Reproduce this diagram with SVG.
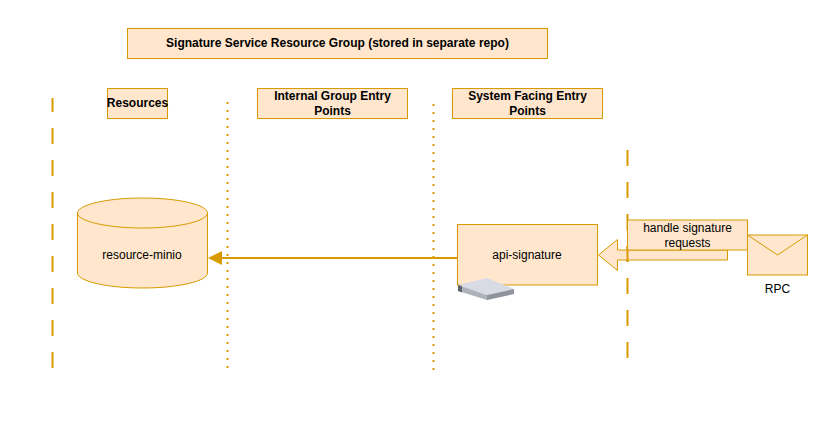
<svg xmlns="http://www.w3.org/2000/svg" width="817" height="444" viewBox="0 0 817 444">
<style>
.b{fill:#ffe6cc;stroke:#d79b00;stroke-width:1}
.t{font-family:"Liberation Sans",Arial,sans-serif;font-size:12px;fill:#000;text-anchor:middle}
.h{font-weight:bold}
.dash{fill:none;stroke:#d79b00;stroke-width:2;stroke-dasharray:16 16}
.dot{fill:none;stroke:#d79b00;stroke-width:2;stroke-dasharray:2 6}
</style>
<defs>
<marker id="ah" markerUnits="userSpaceOnUse" markerWidth="16" markerHeight="16" refX="1" refY="8" orient="auto" viewBox="0 0 16 16"><path d="M1 1L15 8L1 15Z" fill="#d79b00"/></marker>
</defs>
<rect width="817" height="444" fill="#fff"/>
<g id="lanes">
<path class="dash" d="M52.5 98V368" stroke-dashoffset="2"/>
<path class="dot" d="M227.5 102V368"/>
<path class="dot" d="M433.5 104V370"/>
<path class="dash" d="M627.5 150V358"/>
</g>
<g id="title"><rect class="b" x="127.5" y="28.5" width="420" height="30"/><text class="t h" x="337.5" y="47">Signature Service Resource Group (stored in separate repo)</text></g>
<g id="resources"><rect class="b" x="107.5" y="88.5" width="60" height="30"/><text class="t h" x="137.5" y="107">Resources</text></g>
<g id="internal"><rect class="b" x="257.5" y="88.5" width="150" height="30"/><text class="t h" x="332.5" y="100">Internal Group Entry</text><text class="t h" x="332.5" y="115">Points</text></g>
<g id="system"><rect class="b" x="452.5" y="88.5" width="150" height="30"/><text class="t h" x="527.5" y="100">System Facing Entry</text><text class="t h" x="527.5" y="115">Points</text></g>
<g id="resource-minio">
<path class="b" d="M77.5 213C77.5 205 106 198 142.500 198S207.500 205 207.500 213V273C207.500 281 179 288 142.500 288S77.500 281 77.500 273Z"/>
<path class="b" style="fill:none" d="M77.5 213C77.5 221 106 228 142.500 228S207.500 221 207.500 213"/>
<text class="t" x="142" y="259">resource-minio</text>
</g>
<g id="api-signature">
<rect class="b" x="457.500" y="224.500" width="140" height="60.500"/>
<text class="t" x="527" y="259">api-signature</text>
<path d="M458 285L487 278L514 289L487 295Z" fill="#d8dbe3"/>
<path d="M458 285V291L487 300V295Z" fill="#aeb2bb"/>
<path d="M458 285V291L462 292.200V286.300Z" fill="#5f636c"/>
<path d="M487 295V300L514 294V289Z" fill="#8f939c"/>
</g>
<g id="connectors">
<path d="M457.500 258H222" fill="none" stroke="#d79b00" stroke-width="2" marker-end="url(#ah)"/>
<path d="M727.500 250V260H617.500V270.500L598.500 255L617.500 239.500V250Z" fill="#ffe6cc" stroke="#d79b00" stroke-width="1"/>
<path d="M627.500 246V262" class="dash" stroke-dasharray="none"/>
</g>
<g id="handle"><rect class="b" x="627.500" y="220" width="120" height="30"/><text class="t" x="687.500" y="232">handle signature</text><text class="t" x="687.500" y="247">requests</text></g>
<g id="rpc">
<rect class="b" x="747.500" y="235" width="60" height="40"/>
<path class="b" style="fill:none" d="M747.500 235L777.500 255L807.500 235"/>
<text class="t" x="777.500" y="293">RPC</text>
</g>
</svg>
